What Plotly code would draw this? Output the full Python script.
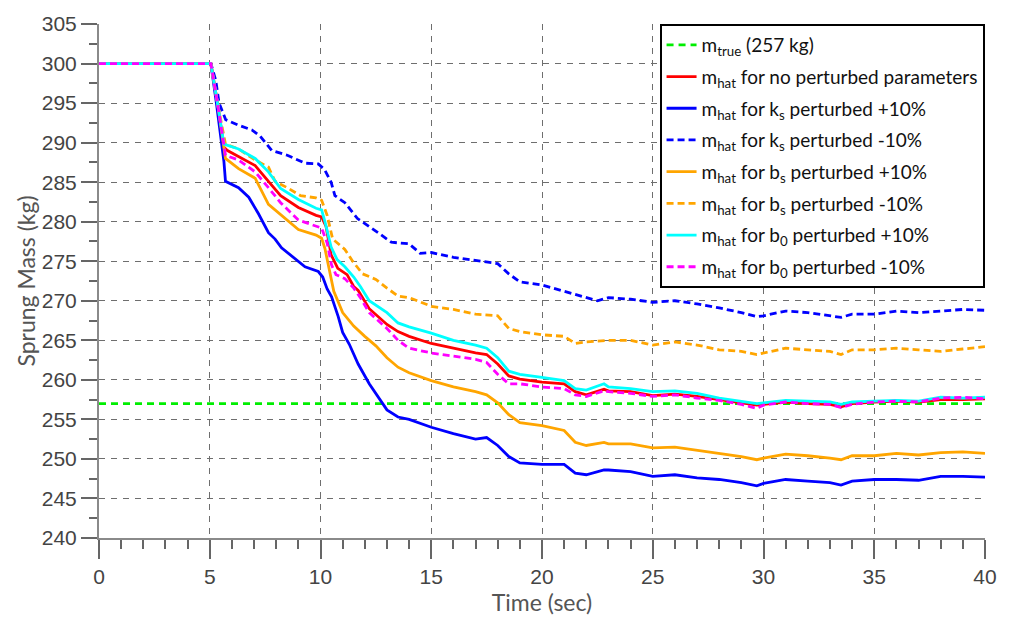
import plotly.graph_objects as go

# ---------------- data ----------------
t_true = [0, 40]
m_true = [257, 257]

t_nom = [0, 5.05, 5.35, 5.64, 5.8, 6.3, 7.05, 7.65, 8.2, 9.0, 9.8, 10.05, 10.25, 10.48, 10.78, 11.2, 11.5, 11.7, 12.2, 13.0, 13.5, 14, 15, 16, 17, 17.5, 18, 18.5, 19, 20, 21, 21.5, 22, 22.8, 23, 24, 25, 26, 27, 28, 29, 29.7, 30, 31, 32, 33, 33.5, 34, 35, 36, 37, 38, 39, 40]
m_nom = [300, 300, 295, 289.4, 289, 288.2, 287.1, 285.1, 283.3, 281.8, 280.8, 280.6, 279.4, 275.8, 274.1, 273.3, 271.8, 271.3, 269, 267, 266.1, 265.5, 264.6, 264, 263.4, 263.2, 262, 260.5, 260.1, 259.7, 259.5, 258.5, 258.1, 258.8, 258.6, 258.5, 258, 258.2, 257.9, 257.5, 257.1, 256.8, 256.9, 257.2, 257, 256.9, 256.6, 257, 257.2, 257.3, 257.2, 257.5, 257.5, 257.6]

t_ks_p = [0, 5.05, 5.3, 5.49, 5.64, 5.71, 6.3, 6.76, 7.2, 7.65, 7.95, 8.24, 8.84, 9.3, 9.9, 10.1, 10.3, 10.5, 10.8, 11.0, 11.3, 11.7, 12.2, 12.7, 13.0, 13.5, 14, 15, 16, 17, 17.5, 18, 18.5, 19, 20, 21, 21.5, 22, 22.8, 23, 24, 25, 26, 27, 28, 29, 29.7, 30, 31, 32, 33, 33.5, 34, 35, 36, 37, 38, 39, 40]
m_ks_p = [300, 300, 295, 291.2, 287.6, 285.1, 284.3, 283.1, 281, 278.6, 277.8, 276.7, 275.3, 274.3, 273.7, 273, 271.5, 270.5, 268, 266, 264.5, 262, 259.5, 257.5, 256.2, 255.3, 255, 254, 253.2, 252.5, 252.7, 251.7, 250.3, 249.5, 249.3, 249.3, 248.2, 248, 248.6, 248.6, 248.4, 247.8, 248, 247.6, 247.4, 247, 246.6, 246.9, 247.4, 247.2, 247, 246.7, 247.2, 247.4, 247.4, 247.3, 247.8, 247.8, 247.7]

t_ks_m = [0, 5.05, 5.27, 5.42, 5.72, 6.3, 6.9, 7.28, 7.8, 8.5, 9.3, 9.9, 10.18, 10.48, 10.65, 11.1, 11.67, 12.11, 12.6, 13.2, 14.0, 14.5, 15, 16, 17, 18, 18.5, 19, 20, 21, 22, 22.5, 23, 24, 25, 26, 27, 28, 29, 29.7, 30, 31, 32, 33, 33.5, 34, 35, 36, 37, 38, 39, 40]
m_ks_m = [300, 300, 297.9, 295, 292.9, 292.2, 291.6, 290.8, 289, 288.4, 287.4, 287.3, 286.6, 285, 283.3, 282.4, 280.4, 279.6, 278.6, 277.4, 277.2, 276, 276.1, 275.5, 275.1, 274.7, 273.4, 272.4, 272, 271.2, 270.4, 270, 270.4, 270.2, 269.8, 270, 269.6, 269.1, 268.5, 268, 268.1, 268.7, 268.5, 268.1, 267.9, 268.3, 268.3, 268.7, 268.5, 268.7, 268.9, 268.8]

t_bs_p = [0, 5.05, 5.35, 5.71, 6.3, 7.05, 7.65, 8.2, 9.0, 9.8, 10.05, 10.2, 10.42, 10.6, 11.0, 11.5, 12.0, 12.5, 13.0, 13.5, 14, 15, 16, 17, 17.5, 18, 18.5, 19, 20, 21, 21.5, 22, 22.8, 23, 24, 25, 26, 27, 28, 29, 29.7, 30, 31, 32, 33, 33.5, 34, 35, 36, 37, 38, 39, 40]
m_bs_p = [300, 300, 295, 288, 286.7, 285.5, 282.2, 280.9, 279, 278.3, 277.9, 276.6, 273.7, 271.2, 268.5, 266.8, 265.5, 264.3, 262.8, 261.6, 260.9, 259.9, 259.1, 258.5, 258.1, 257.1, 255.6, 254.6, 254.2, 253.6, 252.1, 251.7, 252.1, 251.9, 251.9, 251.4, 251.5, 251.1, 250.7, 250.3, 249.9, 250.1, 250.6, 250.4, 250.1, 249.9, 250.4, 250.4, 250.7, 250.5, 250.8, 250.9, 250.7]

t_bs_m = [0, 5.05, 5.35, 5.71, 6.3, 7.05, 7.65, 7.95, 8.5, 9.1, 9.8, 10.05, 10.3, 10.55, 11.1, 11.45, 11.9, 12.5, 13.0, 13.5, 14, 15, 16, 17, 18, 18.5, 19, 20, 21, 21.5, 22, 23, 24, 25, 26, 27, 28, 29, 29.7, 30, 31, 32, 33, 33.5, 34, 35, 36, 37, 38, 39, 40]
m_bs_m = [300, 300, 295, 289.8, 289.2, 287.8, 286.9, 285.1, 284.3, 283.3, 283, 282.7, 280.8, 277.8, 276.5, 275, 273.4, 272.7, 271.6, 270.6, 270.4, 269.3, 268.9, 268.3, 268.1, 266.5, 266.1, 265.7, 265.5, 264.6, 264.8, 265, 265, 264.4, 264.8, 264.4, 263.8, 263.6, 263.2, 263.4, 264, 263.8, 263.6, 263.2, 263.8, 263.8, 264, 263.8, 263.6, 263.9, 264.2]

t_b0_p = [0, 5.05, 5.35, 5.64, 6.3, 7.05, 7.65, 8.2, 9.0, 9.8, 10.05, 10.2, 10.48, 10.75, 11.1, 11.5, 11.8, 12.2, 13.0, 13.5, 14, 15, 16, 17, 17.5, 18, 18.5, 19, 20, 21, 21.5, 22, 22.8, 23, 24, 25, 26, 27, 28, 29, 29.7, 30, 31, 32, 33, 33.5, 34, 35, 36, 37, 38, 39, 40]
m_b0_p = [300, 300, 295, 289.8, 289.2, 288, 286.3, 284.2, 282.8, 281.7, 281.5, 280, 276.8, 275.2, 274.3, 273, 271.8, 270, 268.5, 267.2, 266.7, 265.9, 265, 264.4, 264, 262.8, 261.1, 260.7, 260.3, 259.9, 258.9, 258.7, 259.5, 259.1, 258.9, 258.5, 258.6, 258.3, 257.7, 257.3, 257, 257.1, 257.4, 257.3, 257.2, 256.9, 257.2, 257.3, 257.4, 257.3, 257.8, 257.7, 257.8]

t_b0_m = [0, 5.05, 5.35, 5.71, 6.3, 7.05, 7.65, 8.2, 9.0, 9.8, 10.05, 10.3, 10.5, 10.7, 11.1, 11.5, 11.8, 12.2, 13.0, 13.5, 14, 15, 16, 17, 17.5, 18, 18.5, 19, 20, 21, 21.5, 22, 22.8, 23, 24, 25, 26, 27, 28, 29, 29.7, 30, 31, 32, 33, 33.5, 34, 35, 36, 37, 38, 39, 40]
m_b0_m = [300, 300, 295, 288.4, 287.8, 286.3, 284.3, 282.4, 280.2, 279.5, 279.2, 277.3, 274.5, 273.3, 272.8, 271.6, 270.4, 268.5, 266.5, 265, 264, 263.4, 263, 262.6, 262.2, 260.7, 259.5, 259.5, 259.1, 258.9, 258.1, 257.9, 258.6, 258.5, 258.3, 257.9, 258.1, 257.7, 257.4, 256.9, 256.4, 256.8, 257.2, 257, 256.9, 256.5, 256.9, 257.2, 257.3, 257.2, 257.7, 257.8, 257.6]

x_ticks = [0, 5, 10, 15, 20, 25, 30, 35, 40]
y_ticks = [240, 245, 250, 255, 260, 265, 270, 275, 280, 285, 290, 295, 300, 305]

# ---------------- figure ----------------
series = [
    (t_true, m_true, "m<sub>true</sub> (257 kg)", "#00ee00", "7px,5px"),
    (t_nom, m_nom, "m<sub>hat</sub> for no perturbed parameters", "#ff0000", "solid"),
    (t_ks_p, m_ks_p, "m<sub>hat</sub> for k<sub>s</sub> perturbed +10%", "#0000ff", "solid"),
    (t_ks_m, m_ks_m, "m<sub>hat</sub> for k<sub>s</sub> perturbed -10%", "#0000ff", "7px,4px"),
    (t_bs_p, m_bs_p, "m<sub>hat</sub> for b<sub>s</sub> perturbed +10%", "#ffa500", "solid"),
    (t_bs_m, m_bs_m, "m<sub>hat</sub> for b<sub>s</sub> perturbed -10%", "#ffa500", "7px,4px"),
    (t_b0_p, m_b0_p, "m<sub>hat</sub> for b<sub>0</sub> perturbed +10%", "#00ffff", "solid"),
    (t_b0_m, m_b0_m, "m<sub>hat</sub> for b<sub>0</sub> perturbed -10%", "#ff00ff", "7px,4px"),
]

fig = go.Figure()
for i, (tx, my, name, color, dash) in enumerate(series):
    fig.add_trace(go.Scatter(x=tx, y=my, mode="lines", name=name, legendgroup=f"g{i}",
                             line=dict(color=color, width=2.8, dash=dash)))

axis_common = dict(
    showgrid=True, gridcolor="#6e6e6e", gridwidth=1, griddash="6px,6px",
    showline=True, linecolor="#8a8a8a", linewidth=2,
    ticks="outside", tickcolor="#666666", tickwidth=1.5,
    zeroline=False,
    tickfont=dict(family="Liberation Sans", size=21, color="#444444"),
)

fig.update_xaxes(range=[0, 40], tickvals=x_ticks, ticklen=19,
                 minor=dict(dtick=1, ticks="outside", ticklen=9, tickcolor="#666666", showgrid=False),
                 title=dict(text="Time (sec)", standoff=4,
                            font=dict(family="Lato", size=23, color="#555555")),
                 **axis_common)
fig.update_yaxes(range=[240, 305], tickvals=y_ticks, ticklen=16,
                 minor=dict(dtick=2.5, ticks="outside", ticklen=8, tickcolor="#666666", showgrid=False),
                 title=dict(text="Sprung Mass (kg)", standoff=0,
                            font=dict(family="Lato", size=23, color="#555555")),
                 **axis_common)

fig.update_layout(
    width=1009, height=620,
    margin=dict(l=99, r=17, t=15, b=77),
    plot_bgcolor="white", paper_bgcolor="white",
    showlegend=True,
    legend=dict(x=0.9995, xanchor="right", y=1.0, yanchor="top",
                bgcolor="white", bordercolor="black", borderwidth=2,
                font=dict(family="Lato", size=19, color="#111111"),
                tracegroupgap=4, itemwidth=30),
)

fig.write_html("out.html")
